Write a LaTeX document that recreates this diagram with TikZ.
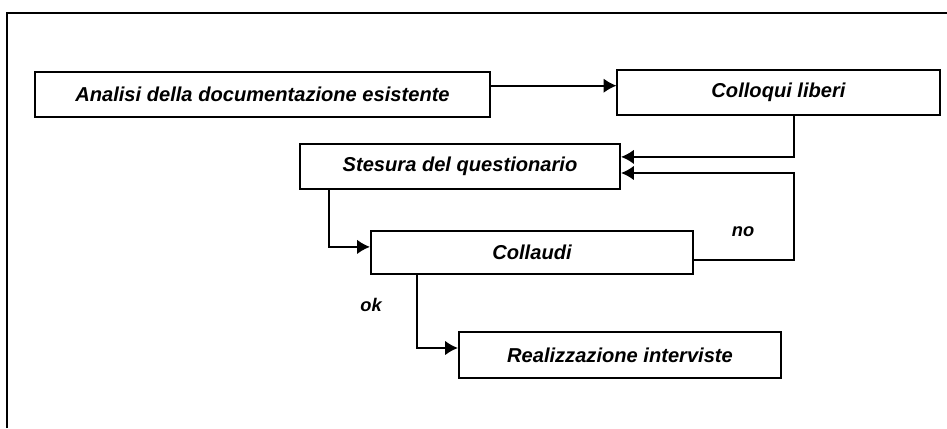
\documentclass[tikz,border=0pt]{standalone}
\usepackage{fontspec}
\setmainfont{Liberation Sans}
\usetikzlibrary{shapes,arrows,arrows.meta,positioning}

\begin{document}
\begin{tikzpicture}[x=0.025cm, y=-0.025cm,
    stepbox/.style={draw, line width=1.4pt, fill=white, text=black, font=\fontsize{14.3}{16}\selectfont\bfseries\itshape, minimum width=8.05cm, minimum height=1.125cm},
    flow/.style={->, line width=1.3pt, >={Latex[length=0.32cm,width=0.36cm]}},
    answer/.style={font=\fontsize{13}{15}\selectfont\bfseries\itshape}]

\useasboundingbox (0,0) rectangle (947,428);

% cornice
\draw[line width=1.4pt] (7,428) -- (7,13) -- (947,13);

\node[stepbox, minimum width=11.375cm] (Analisi) at (262.5,94.5) {Analisi della documentazione esistente};
\node[stepbox] (Colloqui) at (778.5,92.5) {Colloqui liberi};
\node[stepbox, minimum width=8cm] (Stesura) at (460,166.5) {Stesura del questionario};
\node[stepbox, minimum height=1.075cm] (Collaudi) at (532,252.5) {Collaudi};
\node[stepbox, minimum height=1.15cm] (Realizzazione) at (620,355) {Realizzazione interviste};

\coordinate (back) at (794,173);

\node[answer] (no) at (743,232) {no};
\node[answer] (ok) at (371,305) {ok};

\draw[flow] ([yshift=0.22cm]Analisi.east) -- ([yshift=0.22cm]Analisi.east -| Colloqui.west);
\draw[flow] ([xshift=0.39cm]Colloqui.south) |- ([yshift=0.24cm]Stesura.east);
\draw[flow] ([yshift=-0.19cm]Collaudi.east) -| (back) -- (back -| Stesura.east);
\draw[flow] ([xshift=-3.275cm]Stesura.south) |- ([yshift=0.14cm]Collaudi.west);
\draw[flow] ([xshift=-2.875cm]Collaudi.south) |- ([yshift=0.175cm]Realizzazione.west);

\end{tikzpicture}
\end{document}
